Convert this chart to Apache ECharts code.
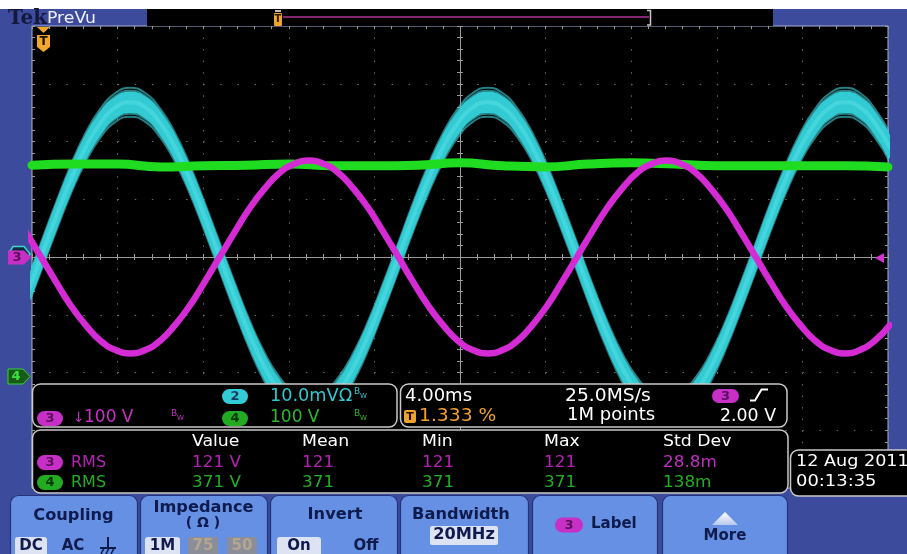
<!DOCTYPE html>
<html>
<head>
<meta charset="utf-8">
<script src="https://cdn.jsdelivr.net/npm/echarts@6.0.0/dist/echarts.min.js"></script>
<style>
html,body{margin:0;padding:0;background:#ffffff;}
#c{width:907px;height:554px;}
</style>
</head>
<body>
<div id="c"></div>
<script>
// ---------------- DATA (read from the screen) ----------------
// time in ms relative to the horizontal centre of the screen (4.00 ms/div)
const timeMs = [-20.28,-19.58,-18.88,-18.19,-17.49,-16.80,-16.10,-15.41,-14.71,-14.01,-13.32,-12.62,-11.93,-11.23,
  -10.53,-9.84,-9.14,-8.45,-7.75,-7.06,-6.36,-5.66,-4.97,-4.27,-3.58,-2.88,-2.19,-1.49,-0.79,-0.10,
  0.60,1.29,1.99,2.69,3.38,4.08,4.77,5.47,6.16,6.86,7.56,8.25,8.95,9.64,10.34,11.04,11.73,12.43,13.12,
  13.82,14.51,15.21,15.91,16.60,17.30,17.99,18.69,19.38,20.08];
// channel 2 (cyan), mV, 10.0 mV/div
const ch2Current = [-6.9,0,6.9,13.4,19.0,23.2,25.9,26.8,25.9,23.2,19.0,13.4,6.9,0,
  -6.9,-13.4,-19.0,-23.2,-25.9,-26.8,-25.9,-23.2,-19.0,-13.4,-6.9,0,
  6.9,13.4,19.0,23.2,25.9,26.8,25.9,23.2,19.0,13.4,6.9,0,
  -6.9,-13.4,-19.0,-23.2,-25.9,-26.8,-25.9,-23.2,-19.0,-13.4,-6.9,0,
  6.9,13.4,19.0,23.2,25.9,26.8,25.9,23.2,19.0];
// channel 3 (magenta), V, 100 V/div
const ch3Voltage = [43,0,-43,-84,-118,-145,-161,-167,-161,-145,-118,-84,-43,0,
  43,84,118,145,161,167,161,145,118,84,43,0,
  -43,-84,-118,-145,-161,-167,-161,-145,-118,-84,-43,0,
  43,84,118,145,161,167,161,145,118,84,43,0,
  -43,-84,-118,-145,-161,-167,-161,-145,-118];
// channel 4 (green), V, 100 V/div
const ch4Time = [-20,-18,-16,-14,-12,-10,-8,-6,-4,-2,0,2,4,6,8,10,12,14,16,18,20];
const ch4Voltage = [369,371,371,366,368,369,371,368,368,369,373,368,366,371,373,371,368,368,368,368,366];

// measurement table
const measHeaders = ['Value','Mean','Min','Max','Std Dev'];
const ch3Meas = ['121 V','121','121','121','28.8m'];
const ch4Meas = ['371 V','371','371','371','138m'];

// channel scales
const CH2_MV_PER_DIV = 10, CH3_V_PER_DIV = 100, CH4_V_PER_DIV = 100, CH4_OFFSET_DIV = -2.10;

// ---------------- STYLE ----------------
const BEZEL = '#3d4b9c', NAVY = '#0f1a4d', HL = '#dde3f3', MAG = '#c72fc7', MAGTXT = '#5a0f5a';
const FONT = '"DejaVu Sans", Verdana, sans-serif';
const cyanCoreOffsets = [-0.15,-0.10,-0.05,0.05,0.10,0.15];
const cyanFuzzOffsets = [-0.25,-0.20,0.20,0.25];

const ch2Div = ch2Current.map(v => v / CH2_MV_PER_DIV);
const ch3Div = ch3Voltage.map(v => v / CH3_V_PER_DIV);
const ch4Div = ch4Voltage.map(v => v / CH4_V_PER_DIV + CH4_OFFSET_DIV);

function wave(times, vals, ls, z) {
  return {type:'line', xAxisIndex:0, yAxisIndex:0, data: times.map((t,i)=>[t, vals[i]]),
    smooth:true, symbol:'none', showSymbol:false, silent:true, animation:false, clip:true,
    lineStyle: Object.assign({cap:'round'}, ls), z:z};
}
const series = [];
cyanFuzzOffsets.forEach(o => series.push(wave(timeMs, ch2Div.map(v=>v+o), {color:'#40d4dc', width:2, opacity:0.6}, 2)));
cyanCoreOffsets.forEach(o => series.push(wave(timeMs, ch2Div.map(v=>v+o), {color:'#33cbd3', width:4}, 3)));
series.push(wave(timeMs, ch2Div, {color:'#45d6dd', width:4}, 4));
series.push(wave(ch4Time, ch4Div, {color:'#20dc20', width:9}, 5));
series.push(wave(timeMs, ch3Div, {color:'#d52bd5', width:6.5}, 6));

const tickStyle = {color:'#9a9a9a', width:1};
function ax(base, extra) {
  return Object.assign({type:'value', gridIndex:0, axisLabel:{show:false}, splitLine:{show:false},
    minorSplitLine:{show:false}, silent:true, axisPointer:{show:false}}, base, extra);
}
const XB = {min:-20, max:20, interval:4};
const YB = {min:-4, max:4, interval:1};
const minor = {show:true, splitNumber:5, length:3, lineStyle:tickStyle};
const xAxis = [
  ax(XB, {position:'bottom', axisLine:{show:true, onZero:true, onZeroAxisIndex:0, lineStyle:{color:'#9a9a9a', width:1}},
    axisTick:{show:true, inside:true, length:3, lineStyle:tickStyle}, minorTick:minor,
    splitLine:{show:true, lineStyle:{color:'#6a6a6a', width:1, type:[1.5,10.05]}}}),
  ax(XB, {position:'bottom', axisLine:{show:false, onZero:true, onZeroAxisIndex:0},
    axisTick:{show:true, inside:false, length:3, lineStyle:tickStyle}, minorTick:minor}),
  ax(XB, {position:'top', axisLine:{show:false, onZero:false},
    axisTick:{show:true, inside:true, length:3, lineStyle:tickStyle}, minorTick:minor})
];
const yAxis = [
  ax(YB, {position:'left', axisLine:{show:true, onZero:true, onZeroAxisIndex:0, lineStyle:{color:'#9a9a9a', width:1}},
    axisTick:{show:true, inside:true, length:3, lineStyle:tickStyle}, minorTick:minor,
    splitLine:{show:true, lineStyle:{color:'#6a6a6a', width:1, type:[1.5,15.62]}}}),
  ax(YB, {position:'left', axisLine:{show:false, onZero:true, onZeroAxisIndex:0},
    axisTick:{show:true, inside:false, length:3, lineStyle:tickStyle}, minorTick:minor}),
  ax(YB, {position:'right', axisLine:{show:false, onZero:false},
    axisTick:{show:true, inside:true, length:3, lineStyle:tickStyle}, minorTick:minor}),
  ax(YB, {position:'left', axisLine:{show:false, onZero:false},
    axisTick:{show:true, inside:true, length:3, lineStyle:tickStyle}, minorTick:minor})
];

// ---------------- SCREEN CHROME ----------------
function R(x,y,w,h,fill,o){o=o||{};return {type:'rect',silent:true,z:o.z||100,shape:{x:x,y:y,width:w,height:h,r:o.r||0},style:{fill:fill,stroke:o.stroke||null,lineWidth:o.lw||0}};}
function T(s,x,y,size,fill,o){o=o||{};const al=o.align||'left';return {type:'text',silent:true,z:o.z||105,x:x,y:y,scaleX:o.sx||1,
  style:{text:s,x:0,y:0,fill:fill,font:(o.bold?'bold ':'')+size+'px '+(o.family||FONT),align:al,textAlign:al,verticalAlign:'middle',textVerticalAlign:'middle'}};}
function P(pts,fill,o){o=o||{};return {type:'polygon',silent:true,z:o.z||100,shape:{points:pts},style:{fill:fill,stroke:o.stroke||null,lineWidth:o.lw||0}};}
function L(pts,stroke,lw,o){o=o||{};return {type:'polyline',silent:true,z:o.z||100,shape:{points:pts},style:{fill:null,stroke:stroke,lineWidth:lw}};}
function pill(x,y,w,h,fill,label,lc){return [R(x,y,w,h,fill,{r:h/2,z:102}),T(label,x+w/2,y+h/2+0.5,13,lc,{bold:true,align:'center',z:106})];}

const els = [];
function add(){for(const e of arguments){Array.isArray(e)?els.push(...e):els.push(e);}}

// top strip / record view
add(R(0,0,907,9,'#ffffff'));
add(R(147,9,626,17,'#000000'));
add(L([[283,17],[649,17]],'#b03398',1.5));
add(L([[647,10.5],[650.5,10.5],[650.5,25],[647,25]],'#c8c8c8',1.5));
add(L([[275,11],[281,11]],'#ffffff',1.5));
add(R(274,13,8,13,'#f0a22e',{r:1}));
add(T('T',278,19.5,10,'#2a1800',{bold:true,align:'center'}));
add(T('Tek',8,19,20,'#15183d',{bold:true,family:'"DejaVu Serif", serif'}));
add(T('PreVu',47,19,15,'#eef0ff',{sx:1.15}));

// trigger position marker
add(P([[37,27],[50,27],[43.5,33]],'#f2a52f'));
add(P([[37,35],[50,35],[50,47],[43.5,52],[37,47]],'#f2a52f'));
add(T('T',43.5,42,12,'#1a1000',{bold:true,align:'center'}));

// channel markers
add(P([[9,253],[13,246.5],[24,246.5],[30,254],[24,261],[9,261]],'#0c2c3a',{stroke:'#3fd3da',lw:1.5}));
add(P([[8,250.5],[24,250.5],[31,257.5],[24,264.5],[8,264.5]],MAG,{z:102}));
add(T('3',17,258,13,MAGTXT,{bold:true,align:'center',z:106}));
add(P([[8,369],[23,369],[30,376.5],[23,384],[8,384]],'#185a18',{stroke:'#33d433',lw:1}));
add(T('4',16,377,13,'#3ee23e',{bold:true,align:'center'}));
add(P([[875,258],[884,253],[884,263]],'#d433d4'));

// panels
const PANEL = {stroke:'#c9c9c9', lw:1.5, r:8};
add(R(32.5,384,364.5,43,'#000',PANEL));
add(R(400.5,384,386.5,43,'#000',PANEL));
add(R(32.5,430,755.5,63,'#000',PANEL));
add(R(790.5,450,130,46,'#000',PANEL));

// panel 1 : vertical settings
add(pill(222,389,26,15,'#33ccd6','2','#0e3c5a'));
add(T('10.0mVΩ',270,397,17,'#2ec8d2',{sx:1.04}));
add(T('B',354,392,9,'#2ec8d2'), T('W',360,396,7,'#2ec8d2'));
add(pill(37,411,26,15,MAG,'3',MAGTXT));
add(T('↓',73,418,14,'#c531c5'));
add(T('100 V',84,418,17,'#c531c5'));
add(T('B',171,414,9,'#c531c5'), T('W',177,418,7,'#c531c5'));
add(pill(222,411,26,15,'#22aa22','4','#063806'));
add(T('100 V',270,418,17,'#2fb82f'));
add(T('B',354,414,9,'#2fb82f'), T('W',360,418,7,'#2fb82f'));

// panel 2 : horizontal / trigger
add(T('4.00ms',405,397,17,'#ffffff',{sx:1.06}));
add(R(404,410,12,13,'#f0a22e',{r:2,z:102}));
add(T('T',410,417,11,'#201000',{bold:true,align:'center',z:106}));
add(T('1.333 %',419,417,17,'#f0a22e',{sx:1.1}));
add(T('25.0MS/s',565,397,17,'#ffffff',{sx:1.1}));
add(T('1M points',567,416,17,'#ffffff',{sx:1.06}));
add(pill(712,389,27,14,MAG,'3',MAGTXT));
add(L([[750,400.5],[755,400.5],[761.5,389.5],[768,389.5]],'#ffffff',2,{z:105}));
add(T('2.00 V',776,417,17,'#ffffff',{align:'right',sx:1.02}));

// panel 3 : measurements
const measX = [192,302,422,544,663];
measHeaders.forEach((h,i)=>add(T(h,measX[i],441.5,16,'#ffffff',{sx:1.08})));
add(pill(37,455,26,15,MAG,'3',MAGTXT));
add(T('RMS',71,462.5,16,'#b521b5'));
ch3Meas.forEach((v,i)=>add(T(v,measX[i],462.5,16,i===4?'#c22ec2':'#b521b5',{sx:1.05})));
add(pill(37,475,26,15,'#22aa22','4','#063806'));
add(T('RMS',71,482.5,16,'#22ae22'));
ch4Meas.forEach((v,i)=>add(T(v,measX[i],482.5,16,'#22ae22',{sx:1.05})));

// date / time
add(T('12 Aug 2011',796,461.5,16,'#ffffff',{sx:1.1}));
add(T('00:13:35',796,481.5,16,'#ffffff',{sx:1.12}));

// bottom buttons
const BTN = [[10,137],[140,267],[270,397],[400,528],[532,657],[662,787]];
BTN.forEach(b => add(R(b[0]+0.5,495.5,b[1]-b[0],70,'#6590e3',{r:8,stroke:'#24337a',lw:1.2})));
const BT = {bold:true,align:'center',sx:1.08};
add(T('Coupling',73.5,516,15,NAVY,BT));
add(R(15,537,32,20,HL,{r:3,z:102}));
add(T('DC',31,546.5,15,NAVY,{bold:true,align:'center'}));
add(T('AC',73,546.5,15,NAVY,{bold:true,align:'center'}));
add(L([[108,537],[108,548]],NAVY,2,{z:105}), L([[100,548],[116,548]],NAVY,2,{z:105}),
    L([[101,554],[104,548]],NAVY,1.6,{z:105}), L([[106,554],[109,548]],NAVY,1.6,{z:105}), L([[111,554],[114,548]],NAVY,1.6,{z:105}));
add(T('Impedance',203.5,508,15,NAVY,BT));
add(T('( Ω )',203,523.5,14,NAVY,{bold:true,align:'center'}));
add(R(145,537,35,20,HL,{r:3,z:102}));
add(T('1M',162.5,546.5,15,NAVY,{bold:true,align:'center'}));
add(R(188,537,30,20,'#8b8e99',{r:2,z:102}));
add(T('75',203,546.5,15,'#b5a68f',{bold:true,align:'center'}));
add(R(227,537,30,20,'#8b8e99',{r:2,z:102}));
add(T('50',242,546.5,15,'#b5a68f',{bold:true,align:'center'}));
add(T('Invert',335,515.5,15,NAVY,BT));
add(R(277,537,44,20,HL,{r:3,z:102}));
add(T('On',299,546.5,15,NAVY,{bold:true,align:'center'}));
add(T('Off',366,546.5,15,NAVY,{bold:true,align:'center'}));
add(T('Bandwidth',461,515,15,NAVY,BT));
add(R(430,526,68,19,HL,{r:2,z:102}));
add(T('20MHz',464,535.5,15,NAVY,{bold:true,align:'center',sx:1.08}));
add(pill(555,517.5,28,15,MAG,'3',MAGTXT));
add(T('Label',591,524.5,15,NAVY,{bold:true}));
add(P([[712,525],[738,525],[725,512]],{type:'linear',x:0,y:0,x2:0,y2:1,colorStops:[{offset:0,color:'#ffffff'},{offset:1,color:'#b9c8ee'}]}));
add(T('More',725,536,15,NAVY,{bold:true,align:'center'}));

const option = {
  backgroundColor: BEZEL,
  animation: false,
  grid: {left:32, top:26, width:856, height:462, show:true, backgroundColor:'#000000',
    borderColor:'#aab4d6', borderWidth:1, containLabel:false, outerBoundsMode:'none'},
  xAxis: xAxis,
  yAxis: yAxis,
  series: series,
  graphic: {elements: els}
};
const chart = echarts.init(document.getElementById('c'), null, {renderer:'canvas'});
chart.setOption(option);
</script>
</body>
</html>
